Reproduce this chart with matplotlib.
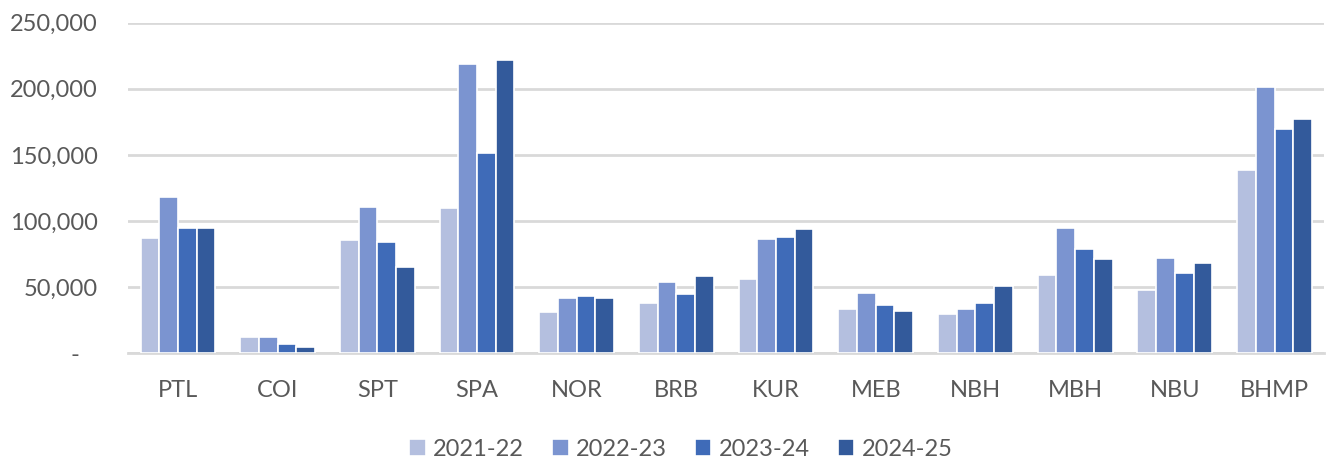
import matplotlib
matplotlib.use("Agg")
import matplotlib.pyplot as plt
import numpy as np
from matplotlib.ticker import FixedLocator, FuncFormatter

categories = ["PTL", "COI", "SPT", "SPA", "NOR", "BRB", "KUR", "MEB", "NBH", "MBH", "NBU", "BHMP"]
series_names = ["2021-22", "2022-23", "2023-24", "2024-25"]
v2021 = [87500, 12000, 85500, 109750, 31500, 38000, 56500, 33500, 29500, 59500, 48000, 138500]
v2022 = [118000, 12000, 110750, 218750, 41500, 54250, 86250, 45500, 33750, 94750, 72250, 201500]
v2023 = [94750, 7000, 84250, 151250, 43500, 44500, 88250, 36250, 38000, 78750, 60500, 169500]
v2024 = [94750, 4750, 65000, 221750, 41500, 58500, 93750, 31750, 51000, 71250, 68000, 177000]
yticks = [0, 50000, 100000, 150000, 200000, 250000]
colors = ["#B4BFDF", "#7B94D0", "#3F6BB8", "#335A9B"]

plt.rcParams['font.family'] = ['Lato', 'DejaVu Sans']

fig = plt.figure(figsize=(13.27, 4.62), dpi=100)
ax = fig.add_axes([0.0965, 0.2353, 0.9015, 0.7156])

x = np.arange(len(categories))
w = 0.1875
for i, (vals, name, c) in enumerate(zip([v2021, v2022, v2023, v2024], series_names, colors)):
    ax.bar(x + (i - 1.5) * w, vals, width=w, color=c, edgecolor="white", linewidth=1.2,
           label=name, zorder=3)

ax.set_xlim(-0.5, len(categories) - 0.5)
ax.set_ylim(0, 250000)
ax.yaxis.set_major_locator(FixedLocator(yticks))
ax.yaxis.set_major_formatter(FuncFormatter(lambda v, p: "-   " if v == 0 else f"{int(v):,}"))
ax.set_xticks(x)
ax.set_xticklabels(categories)
ax.grid(axis="y", color="#D9D9D9", linewidth=2, zorder=0)
for s in ["top", "right", "left"]:
    ax.spines[s].set_visible(False)
ax.spines["bottom"].set_color("#D9D9D9")
ax.spines["bottom"].set_linewidth(2)
ax.tick_params(axis="both", length=0, labelcolor="#595959", labelsize=17)
ax.tick_params(axis="y", pad=22)
ax.tick_params(axis="x", pad=19)

fig.legend(loc="center", bbox_to_anchor=(0.513, 0.028), ncol=4, frameon=False,
           fontsize=17, labelcolor="#595959", handlelength=0.7, handleheight=0.7,
           handletextpad=0.3, columnspacing=1.2)

fig.savefig("out.png", dpi=100)
